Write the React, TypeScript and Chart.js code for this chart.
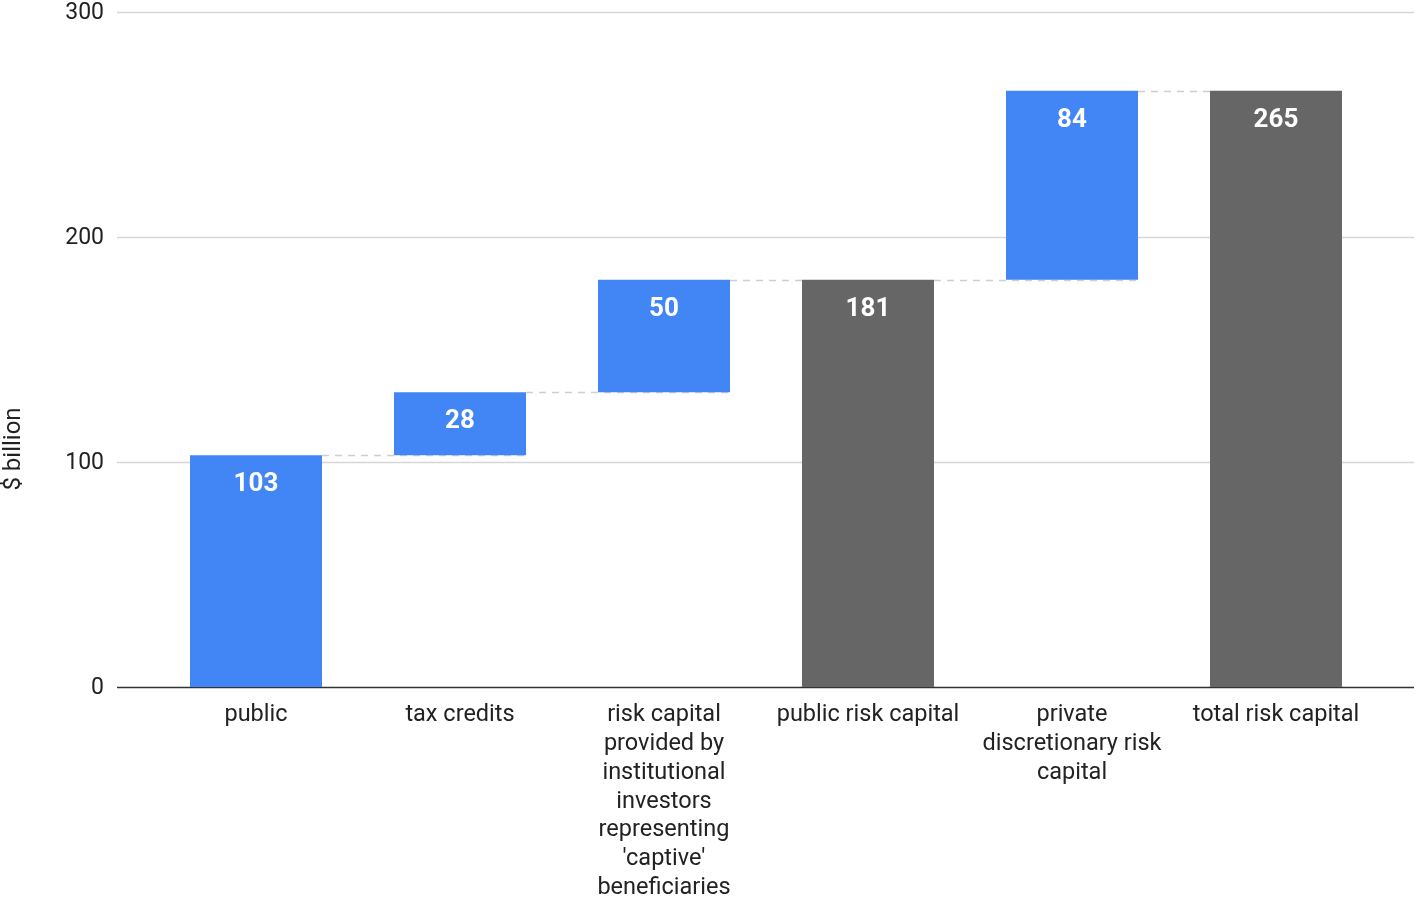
import React, { useEffect, useRef } from "react";
import { Chart, registerables } from "chart.js";

Chart.register(...registerables);

const categories: string[][] = [
  ["public"],
  ["tax credits"],
  ["risk capital", "provided by", "institutional", "investors", "representing", "'captive'", "beneficiaries"],
  ["public risk capital"],
  ["private", "discretionary risk", "capital"],
  ["total risk capital"],
];
const barStarts = [0, 103, 131, 0, 181, 0];
const barEnds = [103, 131, 181, 181, 265, 265];
const barLabels = ["103", "28", "50", "181", "84", "265"];
const barKinds = ["step", "step", "step", "total", "step", "total"];
const yTicks = [0, 100, 200, 300];
const yTitle = "$ billion";

const BLUE = "#4285F4";
const GREY = "#666666";
const FONT = "Roboto, 'Noto Sans', sans-serif";

const GRID_LEFT = 117;
const GRID_RIGHT = 1414;
const TICK_RIGHT = 104;

export default function App() {
  const ref = useRef<HTMLCanvasElement | null>(null);

  useEffect(() => {
    document.body.style.margin = "0";
    const canvas = ref.current;
    if (!canvas) return;

    const gridLines = {
      id: "gridLines",
      beforeDatasetsDraw(chart: any) {
        const ys = chart.scales.y;
        const ctx = chart.ctx;
        ctx.save();
        yTicks.forEach((v) => {
          const y = Math.round(ys.getPixelForValue(v)) + 0.5;
          ctx.strokeStyle = v === 0 ? "#333333" : "#d6d6d6";
          ctx.lineWidth = 1.5;
          ctx.beginPath();
          ctx.moveTo(GRID_LEFT, y);
          ctx.lineTo(GRID_RIGHT, y);
          ctx.stroke();
        });
        ctx.fillStyle = "#222222";
        ctx.font = `23px ${FONT}`;
        ctx.textAlign = "right";
        ctx.textBaseline = "middle";
        yTicks.forEach((v) => {
          ctx.fillText(String(v), TICK_RIGHT, ys.getPixelForValue(v) + 1);
        });
        ctx.restore();
      },
    };

    const connectors = {
      id: "connectors",
      beforeDatasetsDraw(chart: any) {
        const meta = chart.getDatasetMeta(0);
        const ys = chart.scales.y;
        const ctx = chart.ctx;
        ctx.save();
        ctx.strokeStyle = "#cfcfcf";
        ctx.lineWidth = 1.5;
        ctx.setLineDash([7, 6]);
        for (let i = 0; i < meta.data.length - 1; i++) {
          const a = meta.data[i] as any;
          const b = meta.data[i + 1] as any;
          const y = Math.round(ys.getPixelForValue(barEnds[i])) + 0.5;
          const x1 = a.x + a.width / 2;
          const x2 = barStarts[i + 1] === barEnds[i] ? b.x + b.width / 2 : b.x - b.width / 2;
          ctx.beginPath();
          ctx.moveTo(x1, y);
          ctx.lineTo(x2, y);
          ctx.stroke();
        }
        ctx.restore();
      },
    };

    const valueLabels = {
      id: "valueLabels",
      afterDatasetsDraw(chart: any) {
        const meta = chart.getDatasetMeta(0);
        const ctx = chart.ctx;
        ctx.save();
        ctx.fillStyle = "#ffffff";
        ctx.font = `bold 26px ${FONT}`;
        ctx.textAlign = "center";
        ctx.textBaseline = "middle";
        meta.data.forEach((el: any, i: number) => {
          const top = Math.min(el.y, el.base);
          ctx.fillText(barLabels[i], el.x, top + 29.5);
        });
        ctx.restore();
      },
    };

    const axisTitle = {
      id: "axisTitle",
      afterDraw(chart: any) {
        const ctx = chart.ctx;
        ctx.save();
        ctx.translate(14, 449);
        ctx.rotate(-Math.PI / 2);
        ctx.fillStyle = "#222222";
        ctx.font = `24px ${FONT}`;
        ctx.textAlign = "center";
        ctx.textBaseline = "middle";
        ctx.fillText(yTitle, 0, 0);
        ctx.restore();
      },
    };

    const chart = new Chart(canvas, {
      type: "bar",
      data: {
        labels: categories,
        datasets: [
          {
            data: barStarts.map((s, i) => [s, barEnds[i]]) as any,
            backgroundColor: barKinds.map((k) => (k === "total" ? GREY : BLUE)),
            borderWidth: 0,
            categoryPercentage: 1,
            barPercentage: 0.647,
          },
        ],
      },
      options: {
        animation: false,
        responsive: true,
        maintainAspectRatio: false,
        layout: { padding: { top: 12, right: 40, left: 0, bottom: 0 } },
        plugins: {
          legend: { display: false },
          tooltip: { enabled: false },
        },
        scales: {
          x: {
            grid: { display: false, drawTicks: false },
            border: { display: false },
            ticks: {
              color: "#222222",
              font: { family: FONT, size: 23.5, lineHeight: 1.225 },
              maxRotation: 0,
              minRotation: 0,
              autoSkip: false,
              padding: 14,
            },
            afterFit: (s: any) => {
              s.height = 210;
            },
          },
          y: {
            min: 0,
            max: 300,
            afterBuildTicks: (s: any) => {
              s.ticks = yTicks.map((v) => ({ value: v }));
            },
            grid: { display: false, drawTicks: false },
            border: { display: false },
            ticks: { display: false },
            afterFit: (s: any) => {
              s.width = 154;
            },
          },
        },
      },
      plugins: [gridLines, connectors, valueLabels, axisTitle],
    });

    return () => chart.destroy();
  }, []);

  return (
    <div style={{ width: 1418, height: 897, position: "relative" }}>
      <canvas ref={ref} />
    </div>
  );
}
